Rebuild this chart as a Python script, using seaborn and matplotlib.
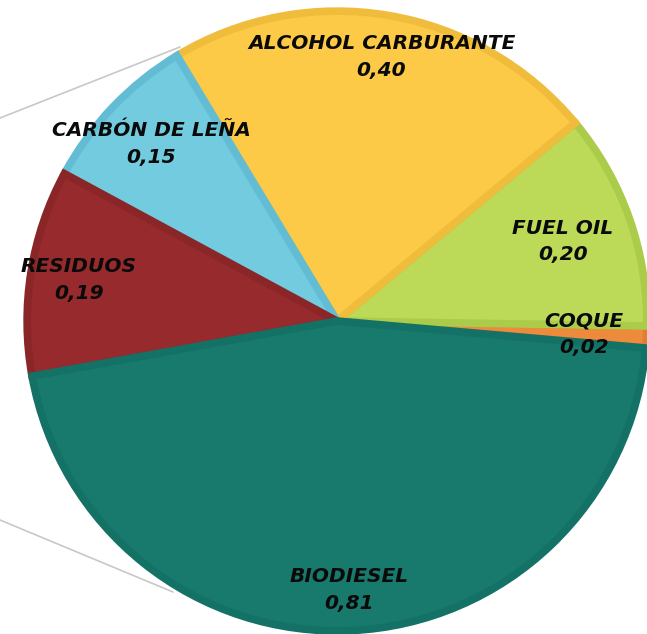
import numpy as np
import matplotlib
matplotlib.use("Agg")
import matplotlib.pyplot as plt
from matplotlib.lines import Line2D
import seaborn as sns

# Data (counterclockwise order, starting with COQUE)
categories = ["COQUE", "FUEL OIL", "ALCOHOL CARBURANTE", "CARBÓN DE LEÑA", "RESIDUOS", "BIODIESEL"]
values = [0.02, 0.20, 0.40, 0.15, 0.19, 0.81]
value_labels = ["0,02", "0,20", "0,40", "0,15", "0,19", "0,81"]

# Styles
fill_colors = ["#ee8a3b", "#bcd957", "#fdca47", "#72cbdf", "#972a2c", "#177a6d"]
edge_colors = ["#e07e33", "#abcb4a", "#f0bc3c", "#62bdd4", "#8a2628", "#147166"]
label_dist = [0.79, 0.765, 0.855, 0.82, 0.835, 0.86]

sns.set_theme(style="white")
plt.rcParams["font.family"] = ["DejaVu Sans"]

fig = plt.figure(figsize=(6.47, 6.34), dpi=100)
fig.patch.set_facecolor("white")
W, H = 647, 634
cx, cy, R = 337, 321, 313
ax = fig.add_axes([(cx - R) / W, (H - cy - R) / H, 2 * R / W, 2 * R / H])

# decorative callout lines
fig.add_artist(Line2D([0 / W, 180 / W], [1 - 118 / H, 1 - 47 / H],
                      color="#c8c8c8", lw=1.2, zorder=0))
fig.add_artist(Line2D([0 / W, 173 / W], [1 - 520 / H, 1 - 592 / H],
                      color="#c8c8c8", lw=1.2, zorder=0))

wedges, _ = ax.pie(values, colors=fill_colors, startangle=-5, counterclock=True,
                   radius=0.99, wedgeprops=dict(linewidth=5.5))
for w, ec in zip(wedges, edge_colors):
    w.set_edgecolor(ec)
    w.set_joinstyle("miter")

for w, name, val, d in zip(wedges, categories, value_labels, label_dist):
    mid = np.deg2rad((w.theta1 + w.theta2) / 2)
    ax.text(d * np.cos(mid), d * np.sin(mid), f"{name}\n{val}",
            ha="center", va="center", fontsize=14.5, fontweight="heavy",
            fontstyle="italic", color="#0a0a0a", linespacing=1.5)

ax.set_xlim(-1, 1)
ax.set_ylim(-1, 1)
ax.set_aspect("equal")
ax.axis("off")

fig.savefig("out.png", dpi=100, facecolor="white")
